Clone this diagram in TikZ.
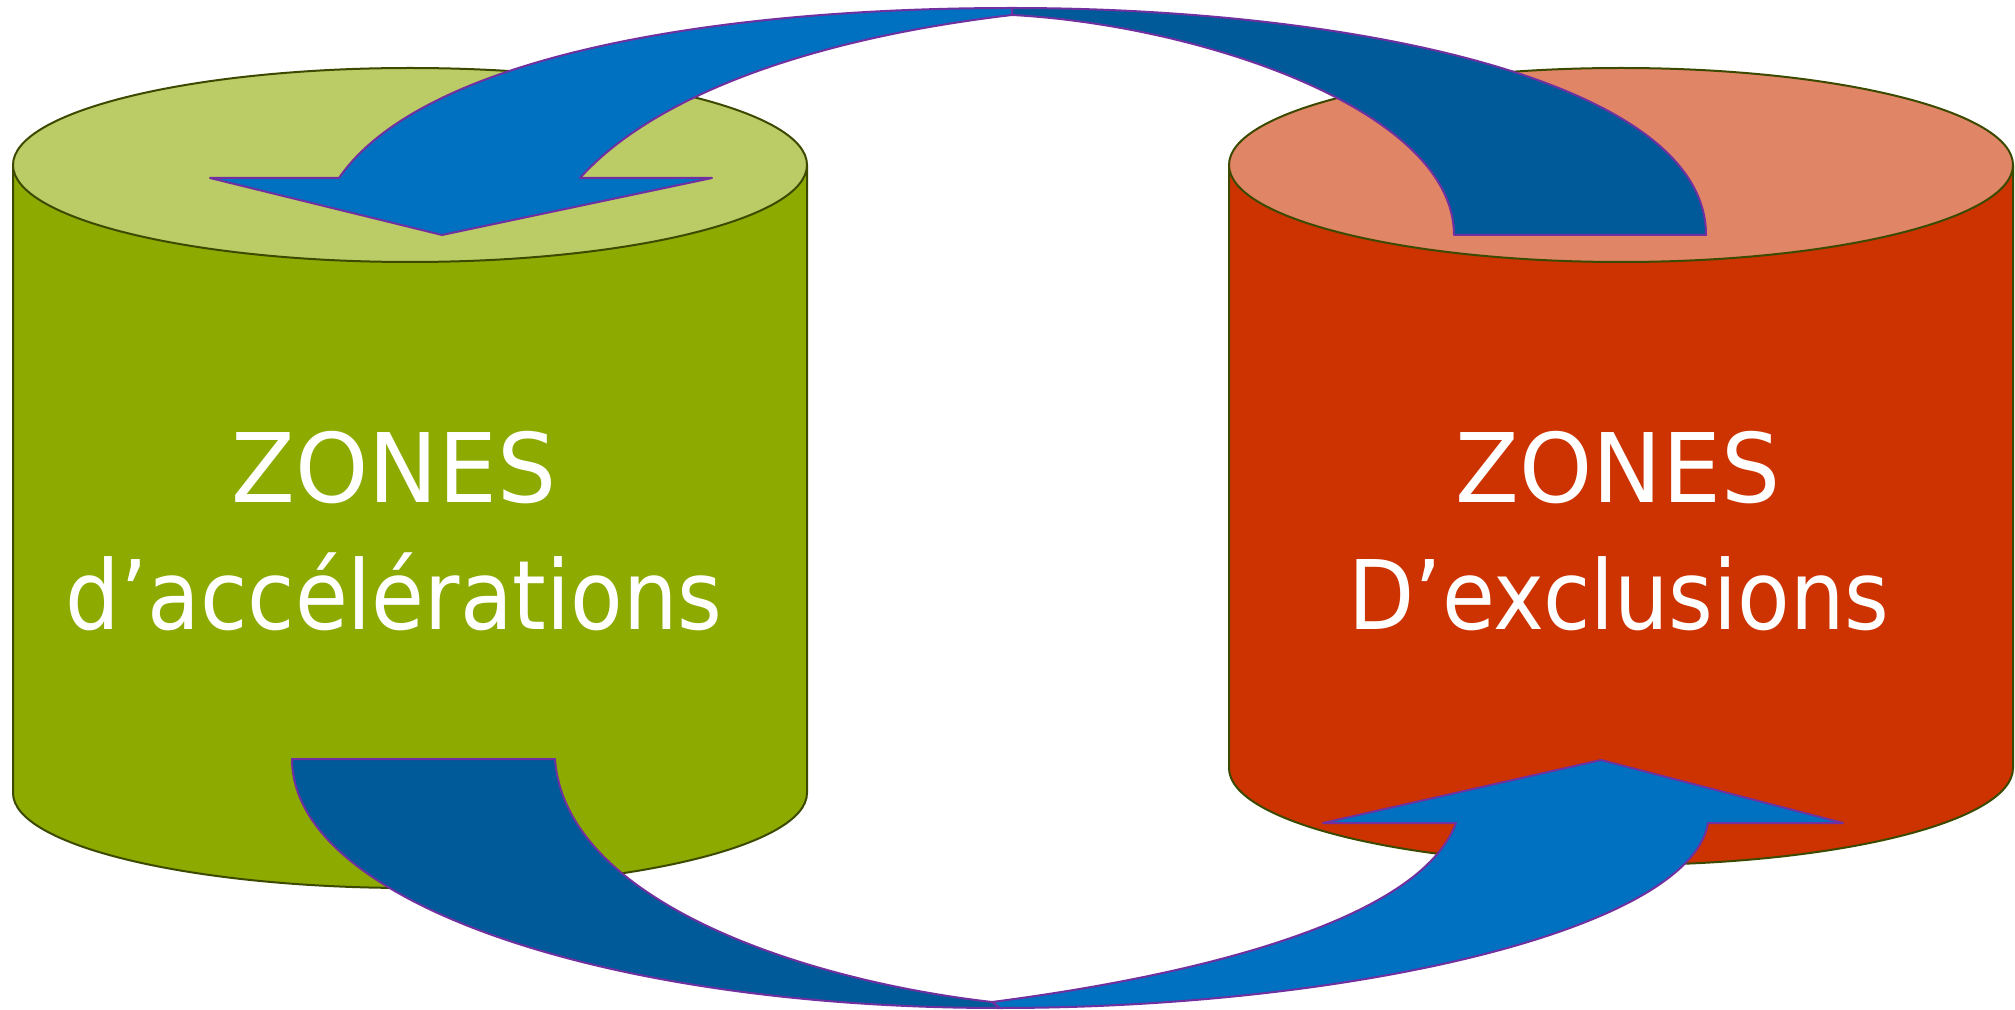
\documentclass[tikz,border=0pt]{standalone}
\usepackage{fontspec}
\usepackage{graphicx}
\newfontfamily\zfont{DejaVu Sans}
\definecolor{greenbody}{HTML}{8CAA00}
\definecolor{greentop}{HTML}{BBCC66}
\definecolor{redbody}{HTML}{CC3300}
\definecolor{redtop}{HTML}{E08566}
\definecolor{cyledge}{HTML}{3C4A00}
\definecolor{bluelight}{HTML}{0070C0}
\definecolor{bluedark}{HTML}{005A99}
\definecolor{arrowedge}{HTML}{7030A0}
\begin{document}
\begin{tikzpicture}[x=0.5pt,y=-0.5pt,line join=round,
  cylline/.style={draw=cyledge,line width=1pt},
  arrline/.style={draw=arrowedge,line width=1pt},
  zlabel/.style={text=white,font=\zfont\fontsize{48}{56}\selectfont,anchor=base,inner sep=0pt}]
\useasboundingbox (0,0) rectangle (2015,1010);
% left cylinder
\path[cylline,fill=greenbody] (13,165) -- (13,793) arc[start angle=180,end angle=0,x radius=397,y radius=95] -- (807,165) -- cycle;
\path[cylline,fill=greentop] (410,165) ellipse[x radius=397,y radius=97];
% right cylinder
\path[cylline,fill=redbody] (1229,165) -- (1229,768) arc[start angle=180,end angle=0,x radius=392,y radius=97] -- (2013,165) -- cycle;
\path[cylline,fill=redtop] (1621,165) ellipse[x radius=392,y radius=97];
% labels
\node[zlabel] (zl1) at (394,503) {\scalebox{0.97}[1]{ZONES}};
\node[zlabel] (zl2) at (394,630) {\scalebox{0.896}[1]{d’accélérations}};
\node[zlabel] (zr1) at (1618,503) {\scalebox{0.97}[1]{ZONES}};
\node[zlabel] (zr2) at (1619,630) {\scalebox{0.896}[1]{D’exclusions}};
% top arrow: dark tail part
\path[arrline,fill=bluedark] (1012,8) .. controls (1350,8) and (1706,80) .. (1706,235) -- (1454,235) .. controls (1454,110) and (1200,25) .. (1012,15) -- cycle;
% top arrow: light head part
\path[arrline,fill=bluelight] (580,178) -- (712,178) -- (442,235) -- (210,178) -- (339,178) .. controls (420,60) and (700,8) .. (1012,8) -- (1012,15) .. controls (800,40) and (650,100) .. (580,178) -- cycle;
% bottom arrow: dark tail part
\path[arrline,fill=bluedark] (292,759) -- (555,759) .. controls (565,900) and (800,980) .. (992,1002) -- (1000,1008) .. controls (600,1008) and (292,900) .. (292,759) -- cycle;
% bottom arrow: light head part
\path[arrline,fill=bluelight] (1000,1008) .. controls (1350,1008) and (1690,930) .. (1708,823) -- (1843,823) -- (1601,760) -- (1323,823) -- (1456,823) .. controls (1420,920) and (1200,975) .. (992,1002) -- cycle;
\end{tikzpicture}
\end{document}
